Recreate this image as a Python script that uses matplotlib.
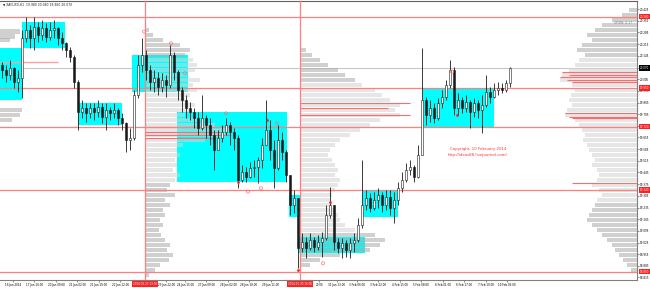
import numpy as np
import matplotlib
matplotlib.use("Agg")
import matplotlib.pyplot as plt
from matplotlib.patches import Rectangle
from matplotlib import transforms

symbol = "XAGUSD,H1"
first_open = 20.09

# candles, one per column (oldest first)
closes = [20.06, 20.03, 20.07, 19.99, 20.01, 20.25, 20.30, 20.25, 20.32, 20.27,
          20.31, 20.26, 20.30, 20.31, 20.25, 20.22, 20.18, 20.14, 19.99, 19.81,
          19.83, 19.80, 19.83, 19.81, 19.84, 19.78, 19.82, 19.80, 19.82, 19.77,
          19.74, 19.64, 19.65, 19.91, 20.09, 20.15, 20.06, 19.99, 20.01, 19.96,
          20.00, 19.97, 20.15, 20.05, 19.94, 19.88, 19.83, 19.81, 19.77, 19.71,
          19.77, 19.73, 19.67, 19.58, 19.65, 19.69, 19.73, 19.69, 19.65, 19.40,
          19.45, 19.42, 19.47, 19.48, 19.52, 19.61, 19.70, 19.58, 19.47, 19.64,
          19.57, 19.43, 19.25, 19.29, 18.99, 19.03, 18.99, 19.04, 19.00, 19.03,
          19.05, 19.19, 19.25, 19.03, 18.99, 19.02, 18.98, 19.02, 19.04, 19.13,
          19.25, 19.29, 19.23, 19.28, 19.31, 19.25, 19.30, 19.23, 19.28, 19.35,
          19.40, 19.46, 19.48, 19.42, 19.55, 19.88, 19.79, 19.83, 19.77, 19.86,
          19.90, 19.97, 20.06, 19.83, 19.88, 19.83, 19.87, 19.81, 19.86, 19.82,
          19.85, 19.93, 19.90, 19.94, 19.95, 19.94, 19.98, 20.07]
highs = [20.11, 20.09, 20.12, 20.08, 20.06, 20.30, 20.38, 20.33, 20.38, 20.35,
         20.36, 20.34, 20.35, 20.36, 20.32, 20.29, 20.23, 20.20, 20.15, 20.00,
         19.88, 19.86, 19.86, 19.86, 19.88, 19.86, 19.86, 19.84, 19.86, 19.83,
         19.80, 19.75, 19.71, 19.94, 20.15, 20.25, 20.18, 20.09, 20.06, 20.05,
         20.04, 20.03, 20.21, 20.17, 20.06, 19.96, 19.91, 19.87, 19.83, 19.81,
         19.91, 19.79, 19.77, 19.70, 19.70, 19.73, 19.77, 19.75, 19.71, 19.67,
         19.49, 19.48, 19.51, 19.52, 19.54, 19.65, 19.88, 19.76, 19.64, 19.73,
         19.69, 19.58, 19.43, 19.34, 19.29, 19.08, 19.06, 19.08, 19.06, 19.07,
         19.09, 19.25, 19.36, 19.25, 19.05, 19.05, 19.04, 19.05, 19.08, 19.17,
         19.52, 19.34, 19.32, 19.33, 19.35, 19.33, 19.34, 19.34, 19.33, 19.39,
         19.45, 19.50, 19.52, 19.49, 19.61, 20.19, 19.90, 19.88, 19.86, 19.89,
         19.94, 20.00, 20.12, 20.08, 19.92, 19.90, 19.91, 19.88, 19.89, 19.88,
         19.91, 20.03, 19.96, 19.98, 19.99, 19.98, 20.00, 20.08]
lows = [20.01, 19.99, 20.00, 19.95, 19.93, 19.89, 20.23, 20.19, 20.18, 20.23,
        20.24, 20.23, 20.24, 20.25, 20.21, 20.18, 20.14, 20.11, 19.95, 19.70,
        19.77, 19.75, 19.77, 19.76, 19.78, 19.74, 19.70, 19.76, 19.77, 19.73,
        19.70, 19.57, 19.58, 19.64, 19.89, 20.05, 20.00, 19.94, 19.93, 19.91,
        19.93, 19.90, 19.95, 20.00, 19.88, 19.81, 19.77, 19.76, 19.71, 19.67,
        19.70, 19.65, 19.61, 19.46, 19.58, 19.63, 19.67, 19.61, 19.58, 19.35,
        19.39, 19.39, 19.41, 19.42, 19.38, 19.47, 19.61, 19.52, 19.35, 19.46,
        19.52, 19.39, 19.19, 19.20, 18.87, 18.97, 18.93, 18.98, 18.97, 18.98,
        18.94, 19.04, 19.17, 18.98, 18.96, 18.93, 18.94, 18.93, 18.97, 19.03,
        19.11, 19.22, 19.21, 19.22, 19.23, 19.21, 19.22, 19.19, 19.14, 19.25,
        19.33, 19.39, 19.43, 19.39, 19.41, 19.55, 19.73, 19.75, 19.74, 19.76,
        19.83, 19.88, 19.95, 19.79, 19.79, 19.80, 19.81, 19.71, 19.78, 19.77,
        19.68, 19.84, 19.86, 19.89, 19.91, 19.92, 19.93, 19.96]

# cyan balance boxes (bar from, bar to, top price, bottom price)
box_start = [-0.5, 5.0, 19.0, 32.5, 43.75, 71.75, 74.0, 90.25, 105.25]
box_end = [5.0, 15.75, 30.0, 46.5, 71.25, 74.5, 90.75, 99.0, 123.0]
box_top = [20.19, 20.35, 19.86, 20.15, 19.81, 19.31, 19.06, 19.34, 19.95]
box_bottom = [19.88, 20.19, 19.73, 19.93, 19.39, 19.18, 18.96, 19.18, 19.72]

level_lines = [20.38, 19.95, 19.72, 19.34, 18.85]
session_bars = [35.75, 74.5]
session_labels = ["2014.01.23 13:00", "2014.01.30 16:00"]

# volume profiles, price step 0.03 from the top level down
prof_step = 0.03
prof_a_top = 20.30
prof_a_vol = [40, 80, 180, 350, 450, 400, 480, 520, 500, 420, 550, 480, 520, 450, 400,
              500, 450, 400, 550, 700, 850, 800, 600, 380, 320, 350, 300, 320, 280, 350,
              300, 250, 220, 300, 200, 250, 180, 200, 150, 180, 140, 160, 200, 250, 220,
              280, 240, 150, 100, 40]
prof_a_va = (19.40, 20.15)
prof_a_poc = [19.72, 19.69, 19.67, 19.65]
prof_a_poc_vol = [850, 750, 850, 700]

prof_b_top = 20.18
prof_b_vol = [60, 120, 200, 280, 380, 450, 550, 620, 750, 820, 900, 1000, 950, 1000, 800,
              700, 600, 500, 400, 350, 300, 280, 320, 350, 380, 350, 400, 380, 350, 320,
              300, 320, 350, 380, 400, 450, 550, 750, 850, 800, 700, 400, 200, 100]
prof_b_va = (19.09, 19.97)
prof_b_poc = [19.86, 19.83, 19.79]
prof_b_poc_vol = [1100, 880, 1100]

prof_c_top = 20.42
prof_c_vol = [80, 150, 250, 350, 420, 500, 450, 550, 600, 520, 580, 620, 680, 750, 770,
              650, 620, 660, 680, 650, 700, 720, 620, 580, 550, 520, 540, 500, 480, 450,
              420, 450, 400, 380, 400, 450, 380, 350, 400, 420, 450, 480, 500, 450, 400,
              350, 300, 250, 220, 180, 140, 100, 60]
prof_c_va = (19.26, 20.14)
prof_c_poc = [20.05, 20.03, 20.02, 20.00, 19.99, 19.80, 19.78, 19.77, 19.38]
prof_c_poc_vol = [750, 680, 770, 700, 650, 720, 680, 650, 650]

prof_d_levels = [20.29, 20.26, 20.24, 19.82, 19.79, 19.76]
prof_d_vol = [200, 150, 100, 220, 200, 120]
prof_d_poc = [20.11]
prof_d_poc_vol = [580]

fractal_x = [35.5, 42.25, 45.75, 56.0, 61.5, 64.75, 68.75, 80.25, 112.5]
fractal_y = [20.29, 20.22, 20.04, 19.80, 19.33, 19.35, 19.74, 18.90, 20.05]
dot_x = [59.0, 66.25, 82.0, 74.0, 113.75]
dot_y = [19.39, 19.76, 19.27, 18.86, 19.79]

price_ticks = [20.425, 20.355, 20.285, 20.215, 20.145, 20.075, 20.005, 19.935, 19.865,
               19.795, 19.725, 19.655, 19.585, 19.515, 19.445, 19.375, 19.305, 19.235,
               19.165, 19.095, 19.025, 18.955, 18.885, 18.815]
# time labels; the ones under the red session labels show only their tail
time_pos = [2.75, 8, 13.5, 18.75, 24.25, 29.5, 41.0, 45.75, 51, 56.5, 61.75,
            67.25, 79.3, 83.75, 88.75, 94, 99.5, 104.75, 110.25, 115.5, 121, 126.25]
time_labels = ["16 Jan 2014", "17 Jan 16:00", "20 Jan 09:00", "21 Jan 02:00",
               "21 Jan 19:00", "22 Jan 12:00", "23 Jan 22:00",
               "24 Jan 15:00", "27 Jan 09:00", "28 Jan 02:00", "28 Jan 18:00",
               "29 Jan 11:00", "20:00", "31 Jan 13:00",
               "3 Feb 06:00", "3 Feb 22:00", "4 Feb 15:00", "5 Feb 08:00",
               "6 Feb 01:00", "6 Feb 17:00", "7 Feb 10:00", "10 Feb 03:00"]

VOL = 0.025  # bars per volume unit
RED = "#FF7F7F"

fig = plt.figure(figsize=(6.5, 2.88), dpi=100)
ax = fig.add_axes([0, 8 / 288, 637 / 650, 279 / 288])
ax.set_xlim(-0.5, 158.75)
ax.set_ylim(18.80, 20.474)

# boxes
for x0, x1, t, b in zip(box_start, box_end, box_top, box_bottom):
    ax.add_patch(Rectangle((x0, b), x1 - x0, t - b, facecolor="#00FFFF",
                           edgecolor="none", zorder=1))


def profile(levels, vols, anchor, side, va, poc, poc_vol):
    levels = np.asarray(levels)
    w = np.asarray(vols) * VOL * side
    cols = ["#D3D3D3" if va[0] <= p <= va[1] else "#ABABAB" for p in levels]
    ax.barh(levels, w, left=anchor, height=prof_step * 0.92, color=cols,
            alpha=0.55, linewidth=0, zorder=2)
    if poc:
        ax.hlines(poc, anchor, anchor + np.asarray(poc_vol) * VOL * side,
                  color="#FF6A6A", lw=0.8, zorder=3)


def levels_from(top, n):
    return top - prof_step * np.arange(n)


profile(levels_from(prof_a_top, len(prof_a_vol)), prof_a_vol, session_bars[0], 1,
        prof_a_va, prof_a_poc, prof_a_poc_vol)
profile(levels_from(prof_b_top, len(prof_b_vol)), prof_b_vol, session_bars[1], 1,
        prof_b_va, prof_b_poc, prof_b_poc_vol)
profile(levels_from(prof_c_top, len(prof_c_vol)), prof_c_vol, 158.75, -1,
        prof_c_va, prof_c_poc, prof_c_poc_vol)
profile(prof_d_levels, prof_d_vol, -0.5, 1, (0, 0), [], [])
ax.hlines(prof_d_poc, -0.5, -0.5 + np.asarray(prof_d_poc_vol) * VOL,
          color="#FFA0A0", lw=1.0, zorder=3)

# levels and session lines
ax.axhline(closes[-1], color="#C8C8C8", lw=0.8, zorder=0.5)
for p in level_lines:
    ax.axhline(p, color=RED, lw=0.9, zorder=3)
for x in session_bars:
    ax.axvline(x, color=RED, lw=0.9, zorder=3)

# candles
c = np.array(closes)
o = np.concatenate([[first_open], c[:-1]])
h = np.maximum(np.array(highs), np.maximum(o, c))
l = np.minimum(np.array(lows), np.minimum(o, c))
x = np.arange(len(c))
ax.vlines(x, l, h, color="#1A1A1A", lw=0.6, zorder=4)
bull = c >= o
ax.bar(x[bull], (c - o)[bull], bottom=o[bull], width=0.55, color="white",
       edgecolor="#1A1A1A", linewidth=0.4, zorder=5)
ax.bar(x[~bull], (c - o)[~bull], bottom=o[~bull], width=0.55, color="#1A1A1A",
       edgecolor="#1A1A1A", linewidth=0.4, zorder=5)

ax.scatter(fractal_x, fractal_y, s=5, facecolors="none", edgecolors="#FF7070",
           linewidths=0.5, zorder=6)
ax.scatter(dot_x, dot_y, s=4, color="#FF2020", linewidths=0, zorder=6)

ax.text(119, 19.585, "Copyright, 10 February 2014", color="#FF3030", fontsize=2.8,
        ha="center", va="center", zorder=7)
ax.text(119, 19.55, "http://ideas88.livejournal.com/", color="#FF3030", fontsize=2.8,
        ha="center", va="center", zorder=7)

# axes styling
ax.spines["left"].set_visible(False)
ax.spines["right"].set_color("#808080")
ax.spines["bottom"].set_color("#808080")
ax.spines["top"].set_color("#606060")
for s in ("right", "bottom", "top"):
    ax.spines[s].set_linewidth(0.8)

ax.yaxis.tick_right()
ax.set_yticks(price_ticks)
ax.set_yticklabels([f"{t:.3f}" for t in price_ticks])
ax.tick_params(axis="y", labelsize=2.0, length=1.5, width=0.5, pad=0.8,
               color="#606060")
ax.set_xticks(time_pos)
ax.set_xticklabels(time_labels)
ax.tick_params(axis="x", labelsize=2.0, length=1.5, width=0.5, pad=0.6,
               color="#606060")

ty = transforms.blended_transform_factory(ax.transAxes, ax.transData)
for p in level_lines:
    ax.text(1.004, p, f"{p:.3f}", transform=ty, fontsize=2.0, color="white",
            ha="left", va="center", zorder=10, clip_on=False,
            bbox=dict(boxstyle="square,pad=0.3", fc="#FF2020", ec="none"))
ax.text(1.004, closes[-1], f"{closes[-1]:.3f}", transform=ty, fontsize=2.0,
        color="white", ha="left", va="center", zorder=10, clip_on=False,
        bbox=dict(boxstyle="square,pad=0.3", fc="#000000", ec="none"))

tx = transforms.blended_transform_factory(ax.transData, ax.transAxes)
for xb, lab in zip(session_bars, session_labels):
    ax.text(xb, -0.0145, lab, transform=tx, fontsize=2.0, color="white",
            ha="center", va="center", zorder=10, clip_on=False,
            bbox=dict(boxstyle="square,pad=0.35", fc="#FF2020", ec="none"))

fig.text(3 / 650, 1 - 4.5 / 288,
         f"\u25bc {symbol}  {o[-1]:.3f} {h[-1]:.3f} {l[-1]:.3f} {c[-1]:.3f}",
         fontsize=2.2, color="#202020", va="center", ha="left")
fig.text(623 / 650, 1 - 23 / 288, "UP/DN: 0.17", fontsize=2.2, color="#808080",
         ha="center", va="center")

fig.savefig("out.png", dpi=100)
